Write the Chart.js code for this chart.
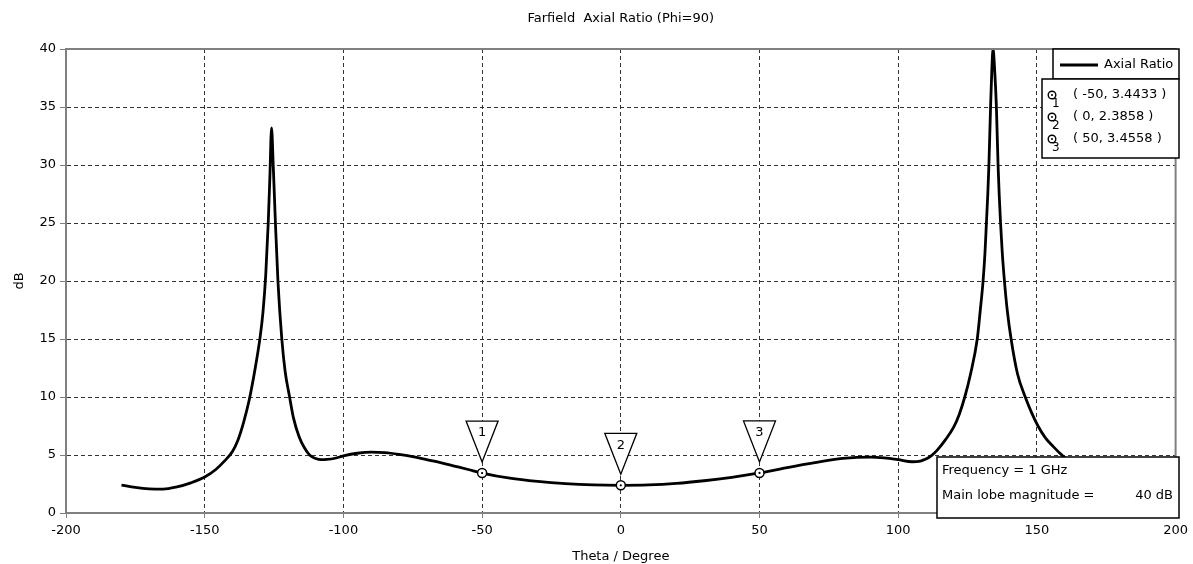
<!DOCTYPE html>
<html lang="en">
<head>
<meta charset="UTF-8"/>
<title>Farfield Axial Ratio (Phi=90)</title>
<script src="https://cdn.jsdelivr.net/npm/chart.js"></script>
<style>
  html, body { margin: 0; padding: 0; background: #fff; }
  #wrap { width: 1193px; height: 564px; }
</style>
</head>
<body>
<div id="wrap"><canvas id="arChart" width="1193" height="564"></canvas></div>
<script>
const theta = [-180, -175, -170, -165, -160, -155, -150, -146, -143, -140, -138, -136, -134, -132, -130, -129, -128, -127.1, -126.5, -125.9,
  -125.3, -124.5, -123.6, -122.2, -121, -119.4, -118, -116, -114, -112, -110, -108, -106, -103, -100, -95, -90, -85, -80, -75, -70,
  -65, -60, -55, -50, -40, -30, -20, -10, 0, 10, 20, 30, 40, 50, 55, 60, 70, 80, 90, 95, 100, 105, 108, 110, 112, 114, 117,
  120, 122, 124, 126, 128.5, 129.6, 130.6, 131.3, 131.8, 132.3, 132.7, 133.3, 133.8, 134.2, 134.7, 135.4, 136, 136.4, 136.9,
  137.5, 138.3, 139.3, 140.7, 143, 145.8, 148, 150.4, 153, 156, 159.4, 163, 167, 172, 176, 180]
const axialRatio = [2.41, 2.2, 2.08, 2.06, 2.25, 2.6, 3.1, 3.75, 4.45, 5.3, 6.3, 7.8, 9.7, 12.2, 15.2, 17.3, 20.5, 25, 29, 33.2,
  30, 25, 20, 15, 12.2, 10, 8.2, 6.6, 5.6, 4.95, 4.7, 4.6, 4.62, 4.72, 4.92, 5.15, 5.25, 5.2, 5.05, 4.85, 4.6,
  4.35, 4.05, 3.75, 3.4433, 3.0, 2.72, 2.53, 2.42, 2.3858, 2.42, 2.55, 2.78, 3.08, 3.4558, 3.68, 3.92, 4.35, 4.7, 4.82, 4.75, 4.6, 4.42, 4.48, 4.65, 4.95, 5.4, 6.3,
  7.4, 8.5, 10, 11.9, 15, 17.5, 20, 22.5, 25, 27.5, 30, 35, 38.5, 40, 38.5, 35, 30, 27.5, 25,
  22.5, 20, 17.5, 15, 12, 10, 8.7, 7.5, 6.5, 5.7, 4.9, 4.2, 3.6, 3.0, 2.6, 2.4]
const markerIds = ['1', '2', '3']
const markerTheta = [-50, 0, 50]
const markerValue = [3.4433, 2.3858, 3.4558]
const infoLines = ['Frequency = 1 GHz', 'Main lobe magnitude =']
const mainLobe = '40 dB'

const FONT = '"DejaVu Sans", Verdana, sans-serif'

const decor = {
  id: 'decor',
  afterDraw(chart) {
    const ctx = chart.ctx, a = chart.chartArea
    const xs = chart.scales.x, ys = chart.scales.y
    ctx.save()
    // frame top / right
    ctx.strokeStyle = '#808080'
    ctx.lineWidth = 2
    ctx.beginPath()
    ctx.moveTo(a.left, a.top); ctx.lineTo(a.right, a.top); ctx.lineTo(a.right, a.bottom)
    ctx.stroke()

    // title
    ctx.fillStyle = '#000'
    ctx.font = '13px ' + FONT
    ctx.textAlign = 'center'
    ctx.textBaseline = 'middle'
    ctx.fillText('Farfield  Axial Ratio (Phi=90)', (a.left + a.right) / 2, 19)

    // markers
    markerIds.forEach((id, i) => {
      const px = xs.getPixelForValue(markerTheta[i]), py = ys.getPixelForValue(markerValue[i])
      ctx.beginPath()
      ctx.moveTo(px - 16, py - 52); ctx.lineTo(px + 16, py - 52); ctx.lineTo(px, py - 11); ctx.closePath()
      ctx.fillStyle = '#fff'; ctx.fill()
      ctx.strokeStyle = '#000'; ctx.lineWidth = 1.3; ctx.stroke()
      ctx.fillStyle = '#000'
      ctx.font = '13px ' + FONT
      ctx.textAlign = 'center'
      ctx.fillText(id, px, py - 40)
      ctx.beginPath(); ctx.arc(px, py, 4.5, 0, Math.PI * 2)
      ctx.fillStyle = '#fff'; ctx.fill(); ctx.lineWidth = 1.5; ctx.stroke()
      ctx.beginPath(); ctx.arc(px, py, 1.1, 0, Math.PI * 2); ctx.fillStyle = '#000'; ctx.fill()
    })

    // legend
    ctx.lineWidth = 1.5
    ctx.strokeStyle = '#000'
    ctx.fillStyle = '#fff'
    ctx.fillRect(1053, 49, 126, 30); ctx.strokeRect(1053, 49, 126, 30)
    ctx.beginPath(); ctx.lineWidth = 3; ctx.moveTo(1060, 65); ctx.lineTo(1098, 65); ctx.stroke()
    ctx.fillStyle = '#000'; ctx.textAlign = 'left'; ctx.font = '13px ' + FONT
    ctx.fillText('Axial Ratio', 1104, 65)

    ctx.lineWidth = 1.5
    ctx.fillStyle = '#fff'
    ctx.fillRect(1042, 79, 137, 79); ctx.strokeRect(1042, 79, 137, 79)
    markerIds.forEach((id, i) => {
      const y = 95 + i * 22
      ctx.beginPath(); ctx.arc(1052, y, 3.8, 0, Math.PI * 2)
      ctx.fillStyle = '#fff'; ctx.fill(); ctx.lineWidth = 1.4; ctx.strokeStyle = '#000'; ctx.stroke()
      ctx.beginPath(); ctx.arc(1052, y, 1, 0, Math.PI * 2); ctx.fillStyle = '#000'; ctx.fill()
      ctx.font = '12px ' + FONT; ctx.textAlign = 'left'
      ctx.fillText(id, 1052, y + 9)
      ctx.font = '13px ' + FONT
      ctx.fillText('( ' + markerTheta[i] + ', ' + markerValue[i] + ' )', 1073, y)
    })

    // info box
    ctx.fillStyle = '#fff'
    ctx.fillRect(937, 457, 242, 61)
    ctx.lineWidth = 1.5; ctx.strokeStyle = '#000'
    ctx.strokeRect(937, 457, 242, 61)
    ctx.fillStyle = '#000'; ctx.font = '13px ' + FONT; ctx.textAlign = 'left'
    ctx.fillText(infoLines[0], 942, 471)
    ctx.fillText(infoLines[1], 942, 496)
    ctx.textAlign = 'right'
    ctx.fillText(mainLobe, 1173, 496)
    ctx.restore()
  }
}

new Chart(document.getElementById('arChart'), {
  type: 'line',
  data: {
    datasets: [{
      label: 'Axial Ratio',
      data: theta.map((t, i) => ({ x: t, y: axialRatio[i] })),
      borderColor: '#000',
      borderWidth: 2.8,
      pointRadius: 0,
      cubicInterpolationMode: 'monotone',
      fill: false
    }]
  },
  options: {
    responsive: false,
    animation: false,
    layout: { padding: { top: 49, right: 15, bottom: 0, left: 0 } },
    plugins: { legend: { display: false }, title: { display: false }, tooltip: { enabled: false } },
    scales: {
      x: {
        type: 'linear', min: -200, max: 200,
        afterFit(s) { s.height = 51 },
        ticks: { stepSize: 50, color: '#000', padding: 5, maxRotation: 0, font: { family: FONT, size: 13 } },
        grid: { color: '#333', tickLength: 5, tickBorderDash: [], tickColor: '#808080' },
        border: { display: true, color: '#808080', width: 2, dash: [4, 3] },
        title: { display: true, text: 'Theta / Degree', color: '#000', padding: 0, font: { family: FONT, size: 13 } }
      },
      y: {
        min: 0, max: 40,
        afterFit(s) { s.width = 66 },
        ticks: { stepSize: 5, color: '#000', padding: 4, font: { family: FONT, size: 13 } },
        grid: { color: '#333', tickLength: 6, tickBorderDash: [], tickColor: '#808080' },
        border: { display: true, color: '#808080', width: 2, dash: [4, 3] },
        title: { display: true, text: 'dB', color: '#000', padding: { top: 12, bottom: 0 }, font: { family: FONT, size: 13 } }
      }
    }
  },
  plugins: [decor]
})
</script>
</body>
</html>
